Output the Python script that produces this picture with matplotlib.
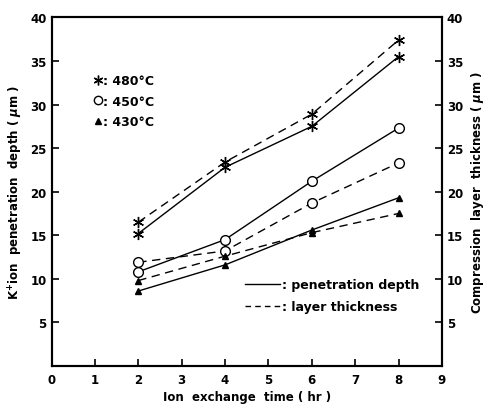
import matplotlib.pyplot as plt

plt.rcParams['font.family'] = 'DejaVu Sans'
plt.rcParams['font.weight'] = 'bold'

time_hr = [2, 4, 6, 8]

# penetration depth (left axis), solid lines
depth_480 = [15.2, 22.8, 27.5, 35.5]
depth_450 = [10.8, 14.5, 21.2, 27.3]
depth_430 = [8.6, 11.6, 15.6, 19.3]

# layer thickness (right axis), dashed lines
thick_480 = [16.5, 23.4, 28.9, 37.4]
thick_450 = [11.9, 13.2, 18.7, 23.3]
thick_430 = [9.8, 12.6, 15.3, 17.5]

temp_labels = [': 480°C', ': 450°C', ': 430°C']
star = (6, 2, 0)
dash = (0, (6, 4))

fig = plt.figure(figsize=(4.91, 4.10), dpi=100)
ax = fig.add_axes([0.105, 0.105, 0.795, 0.85])
ax2 = ax.twinx()

kw = dict(color='black', linewidth=1.0)
ax.plot(time_hr, depth_480, marker=star, markersize=8, **kw)
ax.plot(time_hr, depth_450, marker='o', markersize=7, markerfacecolor='white', **kw)
ax.plot(time_hr, depth_430, marker='^', markersize=5, **kw)
ax2.plot(time_hr, thick_480, marker=star, markersize=8, linestyle=dash, **kw)
ax2.plot(time_hr, thick_450, marker='o', markersize=7, markerfacecolor='white', linestyle=dash, **kw)
ax2.plot(time_hr, thick_430, marker='^', markersize=5, linestyle=dash, **kw)

for a in (ax, ax2):
    a.set_xlim(0, 9)
    a.set_ylim(0, 40)
    for s in a.spines.values():
        s.set_linewidth(1.5)

ax.set_xticks(range(0, 10))
ax.set_yticks(range(5, 45, 5))
ax2.set_yticks(range(5, 45, 5))
ax.tick_params(axis='both', direction='in', length=5, width=1.2, labelsize=8.5)
ax2.tick_params(axis='y', direction='in', length=5, width=1.2, labelsize=8.5)
ax.tick_params(axis='x', pad=5)

ax.set_xlabel('Ion  exchange  time ( hr )', fontsize=8.5, fontweight='bold', labelpad=3)
ax.set_ylabel('K$^{+}$ion  penetration  depth ( $\\mu$m )', fontsize=8.5, fontweight='bold')
ax2.set_ylabel('Compression  layer  thickness ( $\\mu$m )', fontsize=8.5, fontweight='bold')

# marker key
mk = [plt.Line2D([], [], color='black', linestyle='none', marker=star, markersize=7),
      plt.Line2D([], [], color='black', linestyle='none', marker='o', markersize=6, markerfacecolor='white'),
      plt.Line2D([], [], color='black', linestyle='none', marker='^', markersize=5)]
leg1 = ax.legend(mk, temp_labels, loc='upper left', bbox_to_anchor=(0.08, 0.87), frameon=False,
                 handlelength=0.6, handletextpad=0.1, labelspacing=0.6, fontsize=9)
ax.add_artist(leg1)

# line style key
ls = [plt.Line2D([], [], color='black', linewidth=1.0),
      plt.Line2D([], [], color='black', linewidth=1.0, linestyle=(0, (4, 3)))]
ax.legend(ls, [': penetration depth', ': layer thickness'], loc='lower right',
          bbox_to_anchor=(0.97, 0.12), frameon=False, handlelength=2.8,
          handletextpad=0.1, labelspacing=0.7, fontsize=9)

fig.savefig('out.png', dpi=100)
